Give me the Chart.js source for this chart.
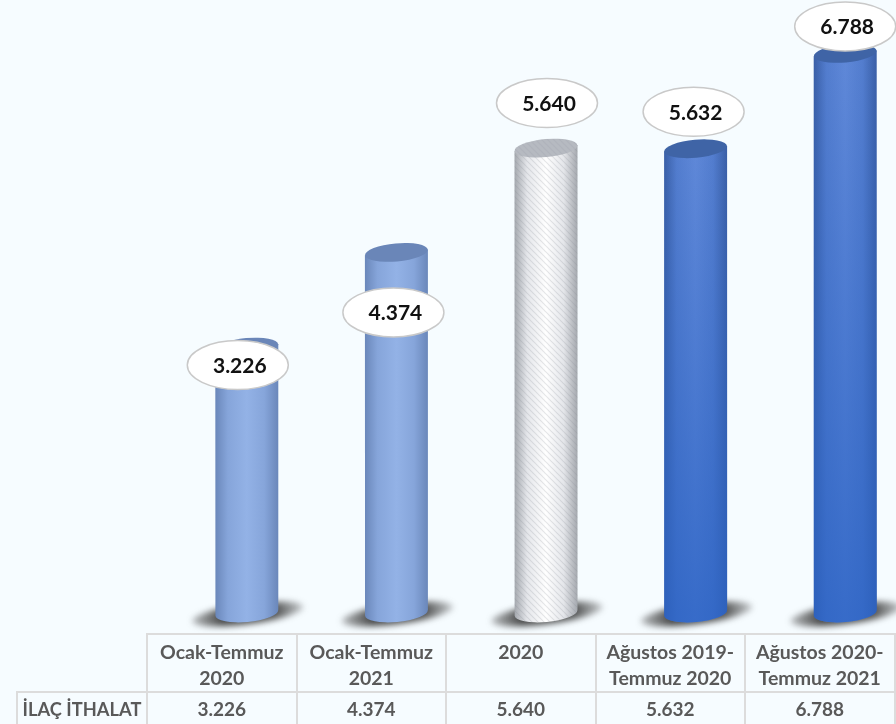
<!DOCTYPE html>
<html lang="tr">
<head>
<meta charset="utf-8">
<style>
  html, body { margin: 0; padding: 0; width: 896px; height: 724px; overflow: hidden; background: #f6fcff; }
  #wrap { position: absolute; left: 0; top: 0; width: 920px; height: 724px; }
  #dataTable { position: absolute; left: 16px; top: 633px; border-collapse: collapse; table-layout: fixed;
    font: bold 19px Lato, sans-serif; color: #595959; text-align: center; }
  #dataTable td { border: 2px solid #dcdcdc; padding: 0; line-height: 26px; }
  #dataTable td.blank { border: none; border-right: 2px solid #dcdcdc; border-bottom: 2px solid #dcdcdc; }
  #dataTable td.head { vertical-align: top; padding-top: 4px; height: 57px; box-sizing: border-box; font-size: 19.5px; }
  #dataTable td.val { height: 33px; box-sizing: border-box; }
  #dataTable td.name { font-size: 18.3px; }
</style>
</head>
<body>
<div id="wrap"><canvas id="chart" width="920" height="724"></canvas></div>
<table id="dataTable"></table>
<script src="https://cdn.jsdelivr.net/npm/chart.js@4"></script>
<script>
const categories = [['Ocak-Temmuz', '2020'], ['Ocak-Temmuz', '2021'], ['2020'], ['Ağustos 2019-', 'Temmuz 2020'], ['Ağustos 2020-', 'Temmuz 2021']];
const seriesName = 'İLAÇ İTHALAT';
const values = [3226, 4374, 5640, 5632, 6788];
const valueLabels = ['3.226', '4.374', '5.640', '5.632', '6.788'];

// where the callouts sit relative to the top of each bar
const calloutOffsets = [[-9, 18], [-3, 60], [1, -45], [-2, -37], [0, -27]];

const barStyles = [
  { edge: '#6a87ba', inner: '#86a5da', mid: '#93b2e6', low: '#93b2e6', cap: '#6a86b8' },
  { edge: '#6a87ba', inner: '#86a5da', mid: '#93b2e6', low: '#93b2e6', cap: '#6a86b8' },
  { edge: '#a4a8ae', inner: '#e4e6ea', mid: '#ffffff', low: '#ffffff', cap: '#b6bac1', hatch: true },
  { edge: '#3a5fa6', inner: '#537dce', mid: '#5f88d8', low: '#2a62c4', cap: '#3f64a6' },
  { edge: '#3a5fa6', inner: '#537dce', mid: '#5f88d8', low: '#2a62c4', cap: '#3f64a6' }
];

const TILT = -0.09;
const CAP_RY = 9;

function hatchPattern(ctx, alpha) {
  const c = document.createElement('canvas');
  c.width = 6; c.height = 6;
  const p = c.getContext('2d');
  p.strokeStyle = 'rgba(130,135,145,' + alpha + ')';
  p.lineWidth = 1.2;
  p.beginPath();
  p.moveTo(0, 0); p.lineTo(6, 6);
  p.moveTo(-3, 3); p.lineTo(3, 9);
  p.moveTo(3, -3); p.lineTo(9, 3);
  p.stroke();
  return ctx.createPattern(c, 'repeat');
}

function capPath(ctx, x, y, rx) {
  ctx.beginPath();
  ctx.ellipse(x, y, rx, CAP_RY, TILT, 0, Math.PI * 2);
}

function drawShadow(ctx, x, base) {
  ctx.save();
  ctx.filter = 'blur(3px)';
  const g = ctx.createLinearGradient(x - 58, 0, x + 58, 0);
  g.addColorStop(0, 'rgba(70,70,70,0.3)');
  g.addColorStop(0.28, 'rgba(45,45,45,0.85)');
  g.addColorStop(0.75, 'rgba(45,45,45,0.8)');
  g.addColorStop(1, 'rgba(70,70,70,0.25)');
  ctx.fillStyle = g;
  ctx.beginPath();
  ctx.ellipse(x + 1, base + 1, 56, 10, -0.13, 0, Math.PI * 2);
  ctx.fill();
  ctx.restore();
}

function drawCylinder(ctx, bar, style) {
  const x = bar.x, top = bar.y, base = bar.base, rx = bar.width / 2;
  const dy = Math.sin(TILT) * rx;

  ctx.save();
  ctx.beginPath();
  ctx.moveTo(x - rx, top - dy);
  ctx.lineTo(x + rx, top + dy);
  ctx.lineTo(x + rx, base + dy);
  ctx.ellipse(x, base, rx, CAP_RY, TILT, 0, Math.PI);
  ctx.closePath();
  ctx.clip();

  const side = ctx.createLinearGradient(x - rx, 0, x + rx, 0);
  side.addColorStop(0, style.edge);
  side.addColorStop(0.2, style.inner);
  side.addColorStop(0.5, style.mid);
  side.addColorStop(0.78, style.inner);
  side.addColorStop(1, style.edge);
  ctx.fillStyle = side;
  ctx.fillRect(x - rx - 1, top - 12, bar.width + 2, base - top + 26);

  if (style.low !== style.mid) {
    // dark bars get a more saturated blue toward the floor
    const down = ctx.createLinearGradient(0, top, 0, base);
    down.addColorStop(0, 'rgba(42,98,196,0)');
    down.addColorStop(1, 'rgba(42,98,196,0.75)');
    ctx.fillStyle = down;
    ctx.fillRect(x - rx - 1, top - 12, bar.width + 2, base - top + 26);
  }
  if (style.hatch) {
    ctx.fillStyle = hatchPattern(ctx, 0.2);
    ctx.fillRect(x - rx - 1, top - 12, bar.width + 2, base - top + 26);
  }
  ctx.restore();

  capPath(ctx, x, top, rx);
  ctx.fillStyle = style.cap;
  ctx.fill();
  if (style.hatch) {
    ctx.fillStyle = hatchPattern(ctx, 0.12);
    ctx.fill();
  }
}

function drawCallout(ctx, x, y, text) {
  ctx.save();
  ctx.beginPath();
  ctx.ellipse(x, y, 50.5, 24.5, 0, 0, Math.PI * 2);
  ctx.fillStyle = '#ffffff';
  ctx.fill();
  ctx.lineWidth = 1.5;
  ctx.strokeStyle = '#c9c9c9';
  ctx.stroke();
  ctx.fillStyle = '#111111';
  ctx.font = 'bold 21px Lato, sans-serif';
  ctx.textAlign = 'center';
  ctx.textBaseline = 'middle';
  ctx.fillText(text, x + 2, y + 1);
  ctx.restore();
}

const cylinderPlugin = {
  id: 'cylinders',
  beforeDatasetDraw(chart) {
    // native flat rectangles are replaced by the cylinders below
    const ctx = chart.ctx;
    const bars = chart.getDatasetMeta(0).data;
    bars.forEach(b => drawShadow(ctx, b.x, b.base));
    bars.forEach((b, i) => drawCylinder(ctx, b, barStyles[i]));
    return false;
  },
  afterDatasetsDraw(chart) {
    const ctx = chart.ctx;
    chart.getDatasetMeta(0).data.forEach((b, i) => {
      drawCallout(ctx, b.x + calloutOffsets[i][0], b.y + calloutOffsets[i][1], valueLabels[i]);
    });
  }
};

new Chart(document.getElementById('chart'), {
  type: 'bar',
  data: {
    labels: categories,
    datasets: [{
      label: seriesName,
      data: values,
      backgroundColor: barStyles.map(s => s.mid),
      barThickness: 63
    }]
  },
  options: {
    responsive: false,
    animation: false,
    layout: { padding: { left: 172, right: 0, top: 3, bottom: 111 } },
    plugins: { legend: { display: false }, tooltip: { enabled: false } },
    scales: {
      x: { display: false },
      y: { display: false, min: 0, max: 7400 }
    }
  },
  plugins: [cylinderPlugin]
});

// data table under the plot
const table = document.getElementById('dataTable');
let colgroup = '<colgroup><col style="width:130px">';
categories.forEach(() => { colgroup += '<col style="width:149.5px">'; });
colgroup += '</colgroup>';
const headRow = '<tr><td class="blank"></td>' + categories.map(c => '<td class="head">' + c.join('<br>') + '</td>').join('') + '</tr>';
const valueRow = '<tr><td class="val name">' + seriesName + '</td>' + valueLabels.map(v => '<td class="val">' + v + '</td>').join('') + '</tr>';
table.innerHTML = colgroup + headRow + valueRow;
</script>
</body>
</html>
